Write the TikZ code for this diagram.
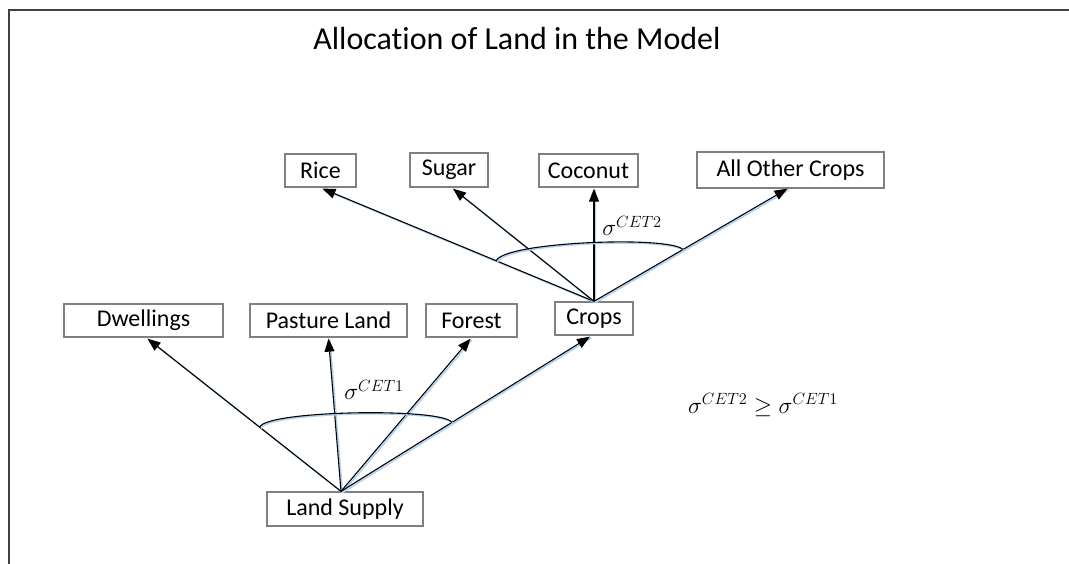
\documentclass[tikz,border=0pt]{standalone}
\usepackage{fontspec}
\setmainfont{Carlito}[Ligatures=NoCommon]
\usetikzlibrary{arrows.meta,calc}
\definecolor{glowblue}{RGB}{175,210,242}
\definecolor{boxgray}{RGB}{128,128,128}
\newcommand{\biglabel}[1]{\scalebox{1.13}{#1}}
\begin{document}
\begin{tikzpicture}[x=1pt,y=-1pt,
  landbox/.style={draw=boxgray, line width=1.3pt, inner sep=0pt, fill=white,
    font=\fontsize{24}{28}\selectfont},
  arr/.style={line width=1.1pt, draw=black,
    -{Triangle[length=13pt,width=10pt]},
    preaction={draw=glowblue, line width=1.6pt, -,
      transform canvas={xshift=1.4pt,yshift=-1.2pt}}},
  arcline/.style={line width=1.1pt, draw=black,
    preaction={draw=glowblue, line width=1.5pt,
      transform canvas={xshift=1.2pt,yshift=-1.2pt}}},
  sigma/.style={inner sep=0pt, font=\fontsize{20.74}{25}\selectfont}]
\useasboundingbox (0,0) rectangle (1069,564);

% page frame (top and left edges)
\draw[line width=2pt, black!75] (9,564) -- (9,10) -- (1069,10);

% title
\node[anchor=base, inner sep=0pt, font=\fontsize{32}{38}\selectfont] (title) at (517,50) {Allocation of Land in the Model};

% upper tier: crop types
\node[landbox, minimum width=71pt, minimum height=33pt] (rice) at (320.5,170.5) {Rice};
\node[landbox, minimum width=78pt, minimum height=34pt] (sugar) at (449,170) {Sugar};
\node[landbox, minimum width=99pt, minimum height=33pt] (coco) at (588.5,170.5) {Coconut};
\node[landbox, minimum width=187pt, minimum height=36pt] (aoc) at (790.5,170) {All Other Crops};

% middle tier: land uses
\node[landbox, minimum width=159pt, minimum height=33pt] (dw) at (143.5,320.5) {Dwellings};
\node[landbox, minimum width=157pt, minimum height=33pt] (pl) at (328.5,320.5) {Pasture Land};
\node[landbox, minimum width=91pt, minimum height=33pt] (fo) at (471.5,320.5) {Forest};
\node[landbox, minimum width=78pt, minimum height=33pt] (cr) at (594,318.5) {Crops};

% root
\node[landbox, minimum width=156pt, minimum height=34pt] (ls) at (345,509) {Land Supply};

% connector end points
\coordinate (lsT) at ($(ls.north)+(-4,0)$);
\coordinate (dwB) at ($(dw.south)+(4,1)$);
\coordinate (plB) at ($(pl.south)+(0,1)$);
\coordinate (foB) at ($(fo.south)+(-1,1)$);
\coordinate (crB) at ($(cr.south)+(-4,1)$);
\coordinate (crT) at (cr.north);
\coordinate (riB) at ($(rice.south)+(2,1)$);
\coordinate (suB) at ($(sugar.south)+(4,1)$);
\coordinate (coB) at ($(cr.north |- coco.south)+(0,1)$);
\coordinate (aoB) at ($(aoc.south)+(-3,0)$);

% first CET nest
\draw[arr] (lsT) -- (dwB);
\draw[arr] (lsT) -- (plB);
\draw[arr] (lsT) -- (foB);
\draw[arr] (lsT) -- (crB);

% second CET nest
\draw[arr] (crT) -- (riB);
\draw[arr] (crT) -- (suB);
\draw[arr] (crT) -- (coB);
\draw[arr] (crT) -- (aoB);

% elasticity arcs
\coordinate (a1L) at ($(lsT)!0.42!(dwB)$);
\coordinate (a1R) at ($(lsT)!0.445!(crB)$);
\draw[arcline] (a1L) .. controls ($(a1L)+(6,-17)$) and ($(a1R)+(-8,-15)$) .. (a1R);

\coordinate (a2L) at ($(crT)!0.36!(riB)$);
\coordinate (a2R) at ($(crT)!0.46!(aoB)$);
\draw[arcline] (a2L) .. controls ($(a2L)+(8,-19)$) and ($(a2R)+(-14,-14)$) .. (a2R);

% elasticity labels
\node[sigma] (s1) at (374,390) {\biglabel{$\sigma^{CET1}$}};
\node[sigma] (s2) at (632,226) {\biglabel{$\sigma^{CET2}$}};
\node[sigma] (ineq) at (763,405) {\biglabel{$\sigma^{CET2}\geq\sigma^{CET1}$}};
\end{tikzpicture}
\end{document}
